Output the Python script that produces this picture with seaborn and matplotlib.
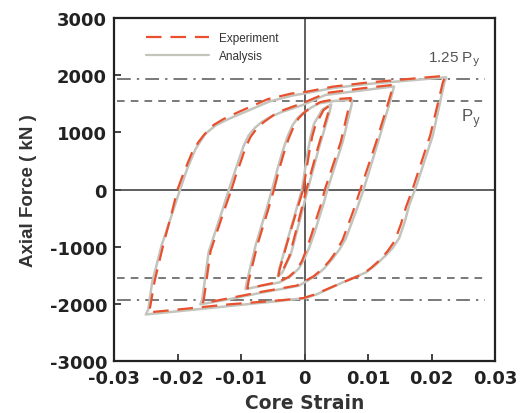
import matplotlib
matplotlib.use("Agg")
import matplotlib.pyplot as plt
from matplotlib.lines import Line2D
import seaborn as sns
import pandas as pd

# ---------------- data ----------------
PY = 1540.0
PY125 = 1925.0

# Analysis loops (strain, axial force kN)
ana5_x = [-0.0196, -0.0185, -0.0172, -0.0163, -0.0156, -0.0140, -0.0124, -0.0108, -0.0093, -0.0056, -0.0019,
          0.0002, 0.0044, 0.0097, 0.0149, 0.0223, 0.0220, 0.0202, 0.0176, 0.0165, 0.0158, 0.0149, 0.0139,
          0.0128, 0.0112, 0.0097, 0.0060, 0.0018, 0.0000, -0.0040, -0.0119, -0.0198, -0.0250, -0.0246,
          -0.0240, -0.0225, -0.0209, -0.0196]
ana5_y = [0, 355, 700, 860, 975, 1122, 1211, 1290, 1360, 1537, 1644,
          1684, 1773, 1844, 1892, 1963, 1862, 945, 59, -266, -560, -851, -1020,
          -1152, -1320, -1449, -1626, -1840, -1900, -1950, -2039, -2128, -2186, -2097,
          -1626, -975, -443, 0]

ana4_x = [-0.0119, -0.0111, -0.0103, -0.0096, -0.0088, -0.0078, -0.0067, -0.0052, -0.0035, -0.0003, 0.0033,
          0.0097, 0.0141, 0.0135, 0.0115, 0.0093, 0.0081, 0.0065, 0.0055, 0.0044, 0.0031, 0.0018, -0.0009,
          -0.0067, -0.0119, -0.0164, -0.0161, -0.0151, -0.0130, -0.0119]
ana4_y = [0, 270, 532, 760, 945, 1080, 1183, 1280, 1360, 1477, 1654,
          1743, 1803, 1550, 800, 0, -385, -856, -1050, -1211, -1380, -1507, -1684,
          -1803, -1920, -2009, -1920, -1094, -385, 0]

ana3_x = [-0.0051, -0.0043, -0.0035, -0.0027, -0.0019, -0.0011, -0.0003, 0.0010, 0.0023, 0.0048, 0.0075,
          0.0074, 0.0060, 0.0036, 0.0030, 0.0023, 0.0015, 0.0007, -0.0001, -0.0009, -0.0022, -0.0040,
          -0.0067, -0.0093, -0.0091, -0.0077, -0.0061, -0.0051]
ana3_y = [0, 340, 651, 920, 1122, 1250, 1330, 1430, 1507, 1550, 1568,
          1480, 828, 0, -250, -496, -780, -1028, -1230, -1383, -1520, -1626,
          -1684, -1743, -1626, -975, -385, 0]

ana2_x = [-0.0004, 0.0005, 0.0010, 0.0015, 0.0028, 0.0042, 0.0040, 0.0022, 0.0005, -0.0008, -0.0016,
          -0.0022, -0.0035, -0.0042, -0.0040, -0.0022, -0.0004]
ana2_y = [0, 650, 950, 1150, 1400, 1490, 1380, 700, 0, -560, -900,
          -1150, -1450, -1520, -1400, -700, 0]

# Experiment loops
exp5_x = [-0.0200, -0.0190, -0.0177, -0.0167, -0.0158, -0.0143, -0.0128, -0.0111, -0.0095, -0.0058, -0.0020,
          0.0003, 0.0045, 0.0098, 0.0150, 0.0222, 0.0218, 0.0198, 0.0170, 0.0160, 0.0152, 0.0142, 0.0132,
          0.0122, 0.0106, 0.0092, 0.0055, 0.0015, -0.0002, -0.0040, -0.0120, -0.0200, -0.0246, -0.0243,
          -0.0236, -0.0222, -0.0210, -0.0200]
exp5_y = [0, 300, 650, 830, 960, 1130, 1230, 1320, 1400, 1580, 1680,
          1710, 1800, 1870, 1920, 1990, 1880, 950, 0, -300, -600, -900, -1060,
          -1200, -1360, -1480, -1650, -1840, -1900, -1940, -2010, -2100, -2150, -2050,
          -1600, -950, -450, 0]

exp4_x = [-0.0115, -0.0108, -0.0100, -0.0093, -0.0085, -0.0075, -0.0064, -0.0049, -0.0033, -0.0001, 0.0035,
          0.0098, 0.0140, 0.0133, 0.0112, 0.0088, 0.0076, 0.0060, 0.0050, 0.0040, 0.0027, 0.0014, -0.0012,
          -0.0068, -0.0118, -0.0160, -0.0158, -0.0148, -0.0127, -0.0115]
exp4_y = [0, 250, 500, 730, 920, 1070, 1180, 1300, 1390, 1520, 1690,
          1780, 1830, 1560, 800, 0, -400, -880, -1080, -1240, -1400, -1520, -1680,
          -1790, -1900, -1990, -1880, -1080, -380, 0]

exp3_x = [-0.0048, -0.0041, -0.0033, -0.0025, -0.0017, -0.0009, -0.0001, 0.0012, 0.0025, 0.0048, 0.0073,
          0.0071, 0.0057, 0.0032, 0.0026, 0.0019, 0.0011, 0.0003, -0.0004, -0.0012, -0.0025, -0.0042,
          -0.0068, -0.0090, -0.0088, -0.0074, -0.0058, -0.0048]
exp3_y = [0, 310, 620, 890, 1100, 1250, 1340, 1450, 1530, 1580, 1600,
          1500, 830, 0, -260, -500, -790, -1050, -1250, -1400, -1530, -1620,
          -1680, -1730, -1600, -960, -380, 0]

exp2_x = [-0.0002, 0.0007, 0.0012, 0.0017, 0.0030, 0.0040, 0.0038, 0.0020, 0.0003, -0.0010, -0.0018,
          -0.0024, -0.0036, -0.0041, -0.0039, -0.0021, -0.0002]
exp2_y = [0, 620, 920, 1120, 1390, 1470, 1370, 690, 0, -580, -920,
          -1170, -1460, -1510, -1390, -690, 0]

x_ticks = [-0.03, -0.02, -0.01, 0, 0.01, 0.02, 0.03]
x_tick_labels = ["-0.03", "-0.02", "-0.01", "0", "0.01", "0.02", "0.03"]
y_ticks = [-3000, -2000, -1000, 0, 1000, 2000, 3000]
y_tick_labels = ["-3000", "-2000", "-1000", "0", "1000", "2000", "3000"]

# ---------------- build table ----------------
frames = []
for src, loops in [("Analysis", [(ana5_x, ana5_y), (ana4_x, ana4_y), (ana3_x, ana3_y), (ana2_x, ana2_y)]),
                   ("Experiment", [(exp5_x, exp5_y), (exp4_x, exp4_y), (exp3_x, exp3_y), (exp2_x, exp2_y)])]:
    for i, (lx, ly) in enumerate(loops):
        frames.append(pd.DataFrame({"strain": lx, "force": ly, "source": src,
                                    "loop": f"{src}{i}"}))
df = pd.concat(frames, ignore_index=True)

# ---------------- plotting ----------------
sns.set_style("ticks")
plt.rcParams["font.family"] = ["Liberation Sans", "DejaVu Sans"]

fig = plt.figure(figsize=(5.23, 4.14), dpi=100)
ax = fig.add_axes([0.218, 0.1256, 0.7285, 0.8285])

gray = "#c4c4bc"
red = "#e8502e"
refc = "#555555"

# reference lines and zero axes
ax.axhline(0, color="#444444", lw=1.2, zorder=1)
ax.axvline(0, color="#444444", lw=1.2, zorder=1)
for val in (PY, -PY):
    ax.plot([-0.0295, 0.0285], [val, val], color=refc, lw=1.1, ls=(0, (5, 4)), zorder=1)
for val in (PY125, -PY125):
    ax.plot([-0.0295, 0.0285], [val, val], color=refc, lw=1.1, ls=(0, (9, 4, 1.5, 4)), zorder=1)

ana = df[df.source == "Analysis"]
exp = df[df.source == "Experiment"]
sns.lineplot(data=ana, x="strain", y="force", units="loop", estimator=None, sort=False,
             color=gray, lw=1.8, ax=ax, legend=False, zorder=2)
sns.lineplot(data=exp, x="strain", y="force", units="loop", estimator=None, sort=False,
             color=red, lw=1.6, ax=ax, legend=False, zorder=3)
for line in ax.lines[-4:]:
    line.set_dashes((7, 4))

ax.set_xlim(-0.03, 0.03)
ax.set_ylim(-3000, 3000)
ax.set_xticks(x_ticks)
ax.set_xticklabels(x_tick_labels)
ax.set_yticks(y_ticks)
ax.set_yticklabels(y_tick_labels)
ax.tick_params(direction="in", length=5, width=1.2, labelsize=13, colors="#222222")
ax.tick_params(axis="x", pad=6)
ax.tick_params(axis="y", pad=5)
for lab in ax.get_xticklabels() + ax.get_yticklabels():
    lab.set_fontweight("bold")
    lab.set_family("DejaVu Sans")
for sp in ax.spines.values():
    sp.set_visible(True)
    sp.set_linewidth(1.6)
    sp.set_color("#222222")

ax.set_xlabel("Core Strain", fontsize=13.5, fontweight="bold", color="#333333", labelpad=4,
              family="DejaVu Sans")
ax.set_ylabel("Axial Force ( kN )", fontsize=13.5, fontweight="bold", color="#333333", labelpad=9)

ax.text(0.0236, 2290, r"1.25 P$_\mathrm{y}$", fontsize=11, color="#555555", ha="center", va="center")
ax.text(0.0262, 1250, r"P$_\mathrm{y}$", fontsize=12, color="#555555", ha="center", va="center")

handles = [Line2D([], [], color=red, lw=1.6, dashes=(7, 4)),
           Line2D([], [], color=gray, lw=1.6)]
leg = ax.legend(handles, ["Experiment", "Analysis"], loc="upper left", bbox_to_anchor=(0.055, 0.99),
                frameon=False, handlelength=5.4, labelspacing=0.5,
                prop={"family": ["Liberation Sans"], "size": 8.5})
for t in leg.get_texts():
    t.set_color("#333333")

fig.savefig("out.png", dpi=100)
